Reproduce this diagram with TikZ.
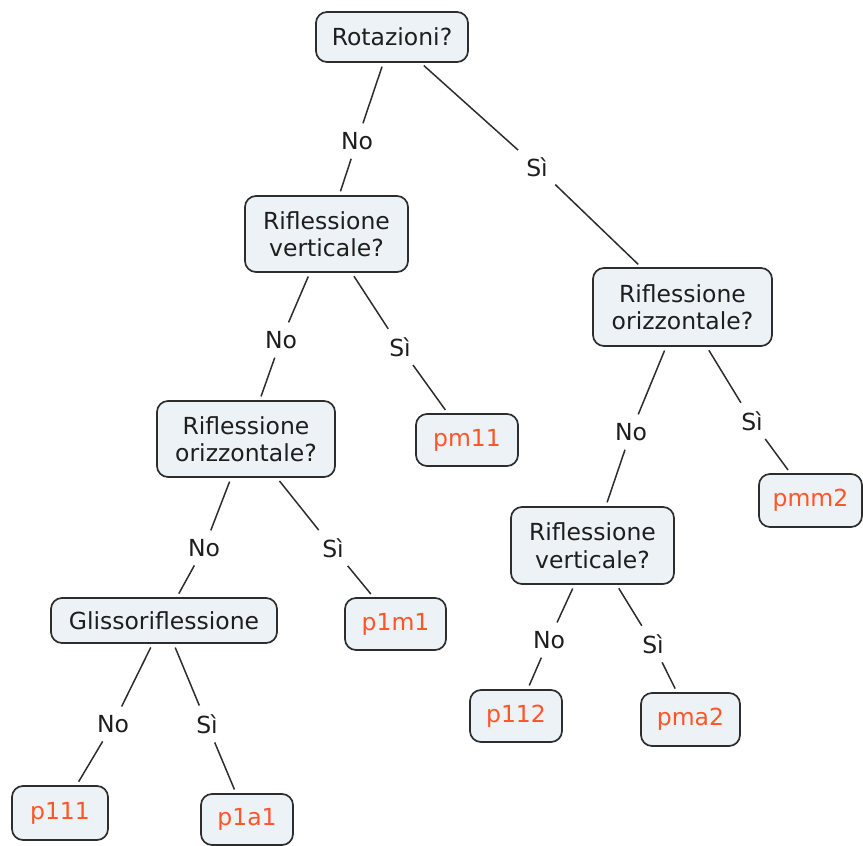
\documentclass[tikz,border=0pt]{standalone}
\usepackage{fontspec}
\setmainfont{DejaVu Sans}
\definecolor{boxfill}{RGB}{236,242,245}
\definecolor{boxline}{RGB}{45,45,45}
\definecolor{leaftext}{RGB}{255,85,40}
\definecolor{txt}{RGB}{30,30,30}
\tikzset{
  qbox/.style={draw=boxline, line width=1.7pt, fill=boxfill, rounded corners=11pt,
    align=center, inner sep=0pt, text=txt, font=\fontsize{23.5}{27.5}\selectfont},
  leafbox/.style={qbox, text=leaftext},
  elabel/.style={inner sep=5pt, text=txt, font=\fontsize{23.5}{27.5}\selectfont},
  conn/.style={draw=boxline, line width=1.5pt, shorten <=4pt, shorten >=4pt}
}
\begin{document}
\begin{tikzpicture}[x=1pt,y=-1pt]
\useasboundingbox (0,0) rectangle (863,846);
% question nodes
\node[qbox, minimum width=152pt, minimum height=50pt] (rot) at (392,37) {Rotazioni?};
\node[qbox, minimum width=163pt, minimum height=76pt] (rv1) at (326.5,234) {Riflessione\\verticale?};
\node[qbox, minimum width=179pt, minimum height=78pt] (ror) at (682.5,307) {Riflessione\\orizzontale?};
\node[qbox, minimum width=178pt, minimum height=76pt] (rol) at (246,439) {Riflessione\\orizzontale?};
\node[qbox, minimum width=163pt, minimum height=77pt] (rvr) at (592.5,545.5) {Riflessione\\verticale?};
\node[qbox, minimum width=226pt, minimum height=45pt] (gl) at (164,620.5) {Glissoriflessione};
% leaves
\node[leafbox, minimum width=102pt, minimum height=52pt] (pm11) at (467,440) {pm11};
\node[leafbox, minimum width=103pt, minimum height=53pt] (pmm2) at (810.5,500.5) {pmm2};
\node[leafbox, minimum width=101pt, minimum height=52pt] (p1m1) at (395.5,624) {p1m1};
\node[leafbox, minimum width=92pt, minimum height=52pt] (p112) at (516,716) {p112};
\node[leafbox, minimum width=99pt, minimum height=53pt] (pma2) at (690.5,719.5) {pma2};
\node[leafbox, minimum width=96pt, minimum height=54pt] (p111) at (60,813) {p111};
\node[leafbox, minimum width=92pt, minimum height=51pt] (p1a1) at (247,819.5) {p1a1};
% edge labels
\node[elabel] (l1n) at (357,141) {No};
\node[elabel] (l1s) at (537,167) {Sì};
\node[elabel] (l2n) at (281,340) {No};
\node[elabel] (l2s) at (400,347) {Sì};
\node[elabel] (l3n) at (631,432) {No};
\node[elabel] (l3s) at (752,421) {Sì};
\node[elabel] (l4n) at (204,548) {No};
\node[elabel] (l4s) at (333,548) {Sì};
\node[elabel] (l5n) at (549,640) {No};
\node[elabel] (l5s) at (653,644) {Sì};
\node[elabel] (l6n) at (113,724) {No};
\node[elabel] (l6s) at (207,724) {Sì};
% connectors
\path[conn] (rot) -- (l1n); \path[conn] (l1n) -- (rv1);
\path[conn] (rot) -- (l1s); \path[conn] (l1s) -- (ror);
\path[conn] (rv1) -- (l2n); \path[conn] (l2n) -- (rol);
\path[conn] (rv1) -- (l2s); \path[conn] (l2s) -- (pm11);
\path[conn] (ror) -- (l3n); \path[conn] (l3n) -- (rvr);
\path[conn] (ror) -- (l3s); \path[conn] (l3s) -- (pmm2);
\path[conn] (rol) -- (l4n); \path[conn] (l4n) -- (gl);
\path[conn] (rol) -- (l4s); \path[conn] (l4s) -- (p1m1);
\path[conn] (rvr) -- (l5n); \path[conn] (l5n) -- (p112);
\path[conn] (rvr) -- (l5s); \path[conn] (l5s) -- (pma2);
\path[conn] (gl) -- (l6n); \path[conn] (l6n) -- (p111);
\path[conn] (gl) -- (l6s); \path[conn] (l6s) -- (p1a1);
\end{tikzpicture}
\end{document}
